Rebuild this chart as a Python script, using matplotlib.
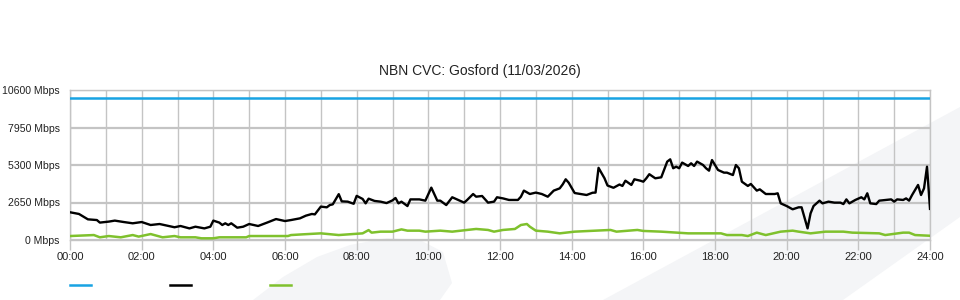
import numpy as np
import matplotlib
matplotlib.use("Agg")
import matplotlib.pyplot as plt
from matplotlib.patches import Polygon
from matplotlib.lines import Line2D

plt.rcParams['font.family'] = ['Liberation Sans', 'DejaVu Sans']

# capacity line (Mbps)
capacity_t = [0, 1440]
capacity_v = [10000, 10000]

# total traffic, black line (minutes since midnight, Mbps)
traffic_t = [0, 15, 30, 45, 50, 65, 75, 90, 105, 120, 135, 150, 160, 175, 185, 200,
             210, 225, 235, 240, 250, 255, 260, 265, 270, 280, 290, 300, 315, 330,
             345, 360, 370, 385, 395, 405, 410, 420, 430, 435, 440, 450, 455, 465,
             475, 480, 490, 495, 500, 510, 520, 530, 540, 545, 550, 555, 565, 570,
             585, 595, 605, 615, 620, 630, 640, 650, 660, 665, 675, 680, 690, 700,
             710, 715, 725, 735, 750, 755, 760, 770, 780, 790, 800, 810, 820, 825,
             830, 835, 845, 855, 865, 875, 880, 885, 895, 900, 910, 920, 925, 930,
             940, 945, 955, 960, 965, 970, 980, 990, 1000, 1005, 1010, 1015, 1020,
             1025, 1035, 1040, 1045, 1050, 1060, 1065, 1070, 1075, 1085, 1095, 1100,
             1110, 1115, 1120, 1125, 1135, 1140, 1150, 1155, 1165, 1180, 1185, 1190,
             1200, 1210, 1220, 1225, 1235, 1240, 1245, 1255, 1260, 1270, 1280, 1290,
             1295, 1300, 1305, 1315, 1325, 1330, 1335, 1340, 1350, 1355, 1375, 1380,
             1385, 1395, 1400, 1405, 1410, 1420, 1425, 1430, 1435, 1440]
traffic_v = [1960, 1840, 1460, 1410, 1230, 1300, 1370, 1270, 1180, 1270, 1060, 1130, 1040,
             900, 990, 820, 940, 820, 940, 1370, 1230, 1060, 1180, 1060, 1180, 870, 940,
             1130, 990, 1230, 1480, 1340, 1410, 1530, 1720, 1840, 1810, 2360, 2310, 2470,
             2520, 3240, 2730, 2710, 2560, 3120, 2900, 2590, 2920, 2760, 2710, 2610, 2800,
             2970, 2590, 2710, 2400, 2870, 2870, 2780, 3700, 2780, 2780, 2470, 3020, 2830,
             2640, 2830, 3250, 3060, 3110, 2640, 2710, 3020, 2940, 2830, 2830, 3060, 3490,
             3250, 3350, 3250, 3060, 3490, 3650, 3930, 4290, 4050, 3320, 3250, 3180, 3340,
             3350, 5100, 4360, 3850, 3690, 3920, 3820, 4190, 3890, 4290, 4190, 4120, 4360,
             4650, 4360, 4430, 5540, 5700, 5070, 5180, 5070, 5470, 5230, 5420, 5230, 5540,
             5300, 5070, 4900, 5650, 4950, 4760, 4760, 4590, 5300, 5070, 4120, 3820, 3960,
             3490, 3580, 3250, 3250, 3300, 2590, 2400, 2170, 2310, 2310, 820, 1880, 2400,
             2780, 2590, 2710, 2640, 2640, 2540, 2870, 2590, 2830, 3020, 2870, 3300, 2590,
             2540, 2780, 2870, 2710, 2870, 2830, 2940, 2780, 3180, 3890, 3180, 3650, 5180,
             2200]

# second series, green line
green_t = [0, 40, 50, 65, 85, 105, 115, 135, 155, 175, 185, 210, 220, 240, 250, 295, 300,
           365, 370, 390, 420, 450, 490, 500, 505, 520, 540, 555, 565, 585, 595, 620,
           640, 665, 680, 700, 710, 725, 745, 755, 765, 770, 780, 800, 820, 845, 905,
           915, 950, 960, 990, 1035, 1090, 1100, 1125, 1135, 1150, 1165, 1190, 1210,
           1220, 1240, 1265, 1295, 1310, 1355, 1365, 1395, 1405, 1415, 1440]
green_v = [280, 350, 190, 280, 190, 350, 240, 420, 190, 280, 190, 190, 120, 120, 190, 190,
           280, 280, 350, 400, 470, 350, 470, 700, 520, 590, 590, 750, 660, 660, 590, 660,
           590, 710, 780, 710, 590, 710, 780, 1060, 1130, 940, 660, 590, 470, 590, 710,
           590, 710, 640, 590, 470, 470, 350, 350, 280, 520, 350, 590, 660, 590, 470, 590,
           590, 520, 470, 350, 520, 520, 350, 300]

y_ticks = [0, 2650, 5300, 7950, 10600]
x_ticks = list(range(0, 1441, 120))
x_labels = ["%02d:00" % (m // 60) for m in x_ticks]

W, H = 960, 300


def px(x, y):
    return (x / W, 1 - y / H)


fig = plt.figure(figsize=(9.6, 3.0), dpi=100)
fig.patch.set_facecolor("white")

# faint background watermark shapes
wm = "#f4f5f7"
band = [px(603, 300), px(960, 107), px(960, 217), px(843, 300)]
blob = [px(253, 300), px(283, 277), px(317, 257), px(350, 245), px(387, 238),
        px(420, 240), px(443, 252), px(452, 283), px(440, 300)]
for shape in (band, blob):
    fig.patches.append(Polygon(shape, closed=True, transform=fig.transFigure,
                               facecolor=wm, edgecolor="none", zorder=-5))

ax = fig.add_axes([70 / W, 60 / H, 860 / W, 150 / H])
ax.patch.set_alpha(0)

grid_c = "#c4c4c4"
ax.set_xlim(0, 1440)
ax.set_ylim(0, 10600)
ax.set_xticks(x_ticks)
ax.set_xticklabels(x_labels)
ax.set_xticks(range(0, 1441, 60), minor=True)
ax.set_yticks(y_ticks)
ax.set_yticklabels(["%d Mbps" % v for v in y_ticks])

ax.grid(axis="x", which="both", color=grid_c, linewidth=1.0)
ax.grid(axis="y", which="major", color=grid_c, linewidth=1.6)
ax.set_axisbelow(True)

ax.tick_params(axis="x", which="major", length=7.5, width=1, color=grid_c,
               labelsize=8, labelcolor="#222222", pad=1.5)
ax.tick_params(axis="x", which="minor", length=0)
ax.tick_params(axis="y", length=0, labelsize=7.6, labelcolor="#222222", pad=7.5)
for s in ax.spines.values():
    s.set_color(grid_c)
    s.set_linewidth(1.0)

ax.plot(capacity_t, capacity_v, color="#18a3e3", linewidth=1.8, zorder=3)
ax.plot(green_t, green_v, color="#7fc12d", linewidth=1.8, zorder=3)
ax.plot(traffic_t, traffic_v, color="black", linewidth=1.7, zorder=4)

fig.text(0.5, 1 - 70.5 / H, "NBN CVC: Gosford (11/03/2026)", ha="center", va="center",
         fontsize=10, color="#222222")

# legend swatches (labels are empty in the original)
for x0, c in ((70, "#18a3e3"), (170, "black"), (270, "#7fc12d")):
    (xa, ya), (xb, yb) = px(x0, 285), px(x0 + 21, 285)
    fig.lines.append(Line2D([xa, xb], [ya, yb], transform=fig.transFigure,
                            color=c, linewidth=1.8))

fig.savefig("out.png", dpi=100)
